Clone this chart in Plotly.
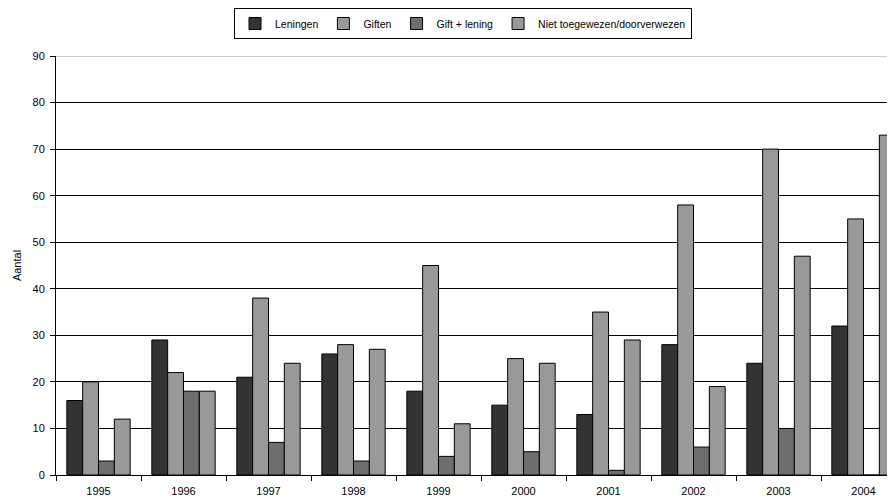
import plotly.graph_objects as go

years = ["1995", "1996", "1997", "1998", "1999", "2000", "2001", "2002", "2003", "2004"]
leningen = [16, 29, 21, 26, 18, 15, 13, 28, 24, 32]
giften = [20, 22, 38, 28, 45, 25, 35, 58, 70, 55]
gift_lening = [3, 18, 7, 3, 4, 5, 1, 6, 10, 0]
niet = [12, 18, 24, 27, 11, 24, 29, 19, 47, 73]

series = [
    ("Leningen", leningen, "#333333"),
    ("Giften", giften, "#999999"),
    ("Gift + lening", gift_lening, "#6e6e6e"),
    ("Niet toegewezen/doorverwezen", niet, "#999999"),
]

fig = go.Figure()
for name, vals, col in series:
    fig.add_trace(go.Bar(
        x=years, y=vals, name=name,
        marker=dict(color=col, line=dict(color="#000000", width=1)),
    ))

fig.update_layout(
    width=887, height=493,
    barmode="group", bargap=0.255, bargroupgap=0,
    plot_bgcolor="white", paper_bgcolor="white",
    margin=dict(l=48, r=0, t=48, b=26, autoexpand=False),
    font=dict(family="Arial, Liberation Sans, sans-serif", size=11, color="#000000"),
    legend=dict(
        orientation="h", xref="container", yref="container",
        x=0.513, xanchor="center", y=1.0, yanchor="top",
        bordercolor="#000000", borderwidth=1, bgcolor="white",
        font=dict(size=10.5), itemwidth=30, traceorder="normal",
        tracegroupgap=0,
    ),
    xaxis=dict(
        type="category", range=[-0.5, -0.5 + 839 / 85],
        tickson="boundaries", ticks="outside", ticklen=5, tickcolor="#000000",
        showline=True, linecolor="#000000", linewidth=1,
        showgrid=False, tickfont=dict(size=11), automargin=False,
        ticklabelstandoff=6,
    ),
    yaxis=dict(
        range=[0, 90], dtick=10, ticks="outside", ticklen=5, tickcolor="#000000",
        showline=True, linecolor="#000000", linewidth=1,
        showgrid=True, gridcolor="#000000", gridwidth=1,
        zeroline=False, tickfont=dict(size=11), automargin=False,
        ticklabelstandoff=3,
        title=dict(text="Aantal", font=dict(size=11), standoff=8),
    ),
)
fig.add_shape(type="line", xref="paper", yref="y", x0=0, x1=1, y0=90, y1=90,
              line=dict(color="#999999", width=1))

fig.write_html("out.html")
